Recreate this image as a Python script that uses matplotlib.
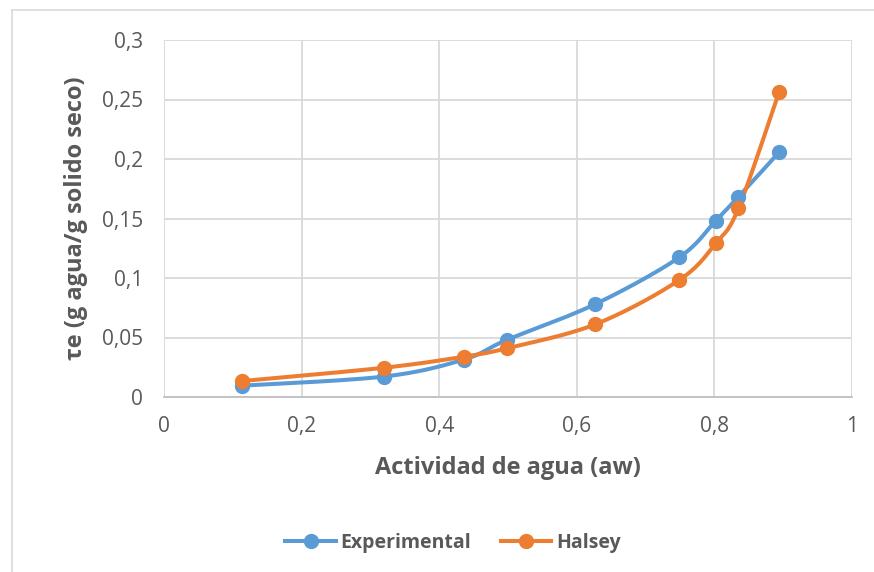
import numpy as np
import matplotlib
matplotlib.use("Agg")
import matplotlib.pyplot as plt
from matplotlib.lines import Line2D

# ---- data ----
aw = [0.113, 0.320, 0.436, 0.498, 0.627, 0.749, 0.802, 0.835, 0.894]
experimental = [0.0095, 0.0172, 0.0315, 0.0479, 0.0781, 0.1174, 0.1482, 0.1683, 0.2056]
halsey = [0.0134, 0.0246, 0.0339, 0.0409, 0.0611, 0.0983, 0.1292, 0.1586, 0.2563]
series_names = ["Experimental", "Halsey"]
x_ticks = [0, 0.2, 0.4, 0.6, 0.8, 1.0]
x_ticklabels = ["0", "0,2", "0,4", "0,6", "0,8", "1"]
y_ticks = [0, 0.05, 0.1, 0.15, 0.2, 0.25, 0.3]
y_ticklabels = ["0", "0,05", "0,1", "0,15", "0,2", "0,25", "0,3"]

BLUE = "#5B9BD5"
ORANGE = "#ED7D31"
TEXT = "#595959"
GRID = "#D9D9D9"

FAM = ['Open Sans', 'DejaVu Sans']
plt.rcParams['font.family'] = FAM


def smooth(x, y, n=30):
    """Excel-like smoothed line (cubic Bezier through the points)."""
    p = np.column_stack([x, y]).astype(float)
    m = len(p)
    out = [p[0]]
    t = np.linspace(0, 1, n)[1:]
    for i in range(m - 1):
        p0 = p[i - 1] if i > 0 else p[i]
        p1 = p[i]
        p2 = p[i + 1]
        p3 = p[i + 2] if i + 2 < m else p[i + 1]
        c1 = p1 + (p2 - p0) / 6.0
        c2 = p2 - (p3 - p1) / 6.0
        for tt in t:
            b = ((1 - tt) ** 3) * p1 + 3 * ((1 - tt) ** 2) * tt * c1 + 3 * (1 - tt) * tt ** 2 * c2 + tt ** 3 * p2
            out.append(b)
    out = np.array(out)
    return out[:, 0], out[:, 1]


W, H = 874, 572
fig = plt.figure(figsize=(W / 100, H / 100), dpi=100)

# outer chart border
fig.add_artist(Line2D([12 / W, 1], [1 - 10 / H, 1 - 10 / H], color=GRID, lw=1.2, transform=fig.transFigure))
fig.add_artist(Line2D([12 / W, 12 / W], [0, 1 - 10 / H], color=GRID, lw=1.2, transform=fig.transFigure))

ax = fig.add_axes([164 / W, (H - 397) / H, 688 / W, 357 / H])
ax.set_xlim(0, 1)
ax.set_ylim(0, 0.3)
ax.set_xticks(x_ticks)
ax.set_xticklabels(x_ticklabels)
ax.set_yticks(y_ticks)
ax.set_yticklabels(y_ticklabels)
ax.grid(True, color=GRID, lw=1.3)
ax.set_axisbelow(True)
for s in ["top", "right", "left"]:
    ax.spines[s].set_visible(False)
ax.spines["bottom"].set_color("#BFBFBF")
ax.spines["bottom"].set_linewidth(1.3)
ax.tick_params(axis="both", length=0, labelsize=15, colors=TEXT)
ax.tick_params(axis="x", pad=14)
ax.tick_params(axis="y", pad=15)

for vals, col, name in [(experimental, BLUE, series_names[0]), (halsey, ORANGE, series_names[1])]:
    sx, sy = smooth(aw, vals)
    ax.plot(sx, sy, color=col, lw=2.9, solid_capstyle="round", zorder=3)
    ax.plot(aw, vals, 'o', color=col, ms=10, zorder=4)

handles = [Line2D([], [], color=BLUE, lw=2.9, marker='o', ms=10),
           Line2D([], [], color=ORANGE, lw=2.9, marker='o', ms=10)]

ax.set_xlabel("Actividad de agua (aw)", fontsize=17, fontweight="bold", color=TEXT, labelpad=13)
ax.set_ylabel("τe (g agua/g solido seco)", fontsize=17, fontweight="bold", color=TEXT, labelpad=10)

leg = fig.legend(handles, series_names, loc="center", bbox_to_anchor=(453 / W, 1 - 543 / H),
                 ncol=2, frameon=False, handlelength=2.6, columnspacing=1.5, handletextpad=0.25,
                 prop={'family': FAM, 'weight': 'bold', 'size': 14})
for t in leg.get_texts():
    t.set_color(TEXT)

fig.savefig("out.png", dpi=100, facecolor="white")
